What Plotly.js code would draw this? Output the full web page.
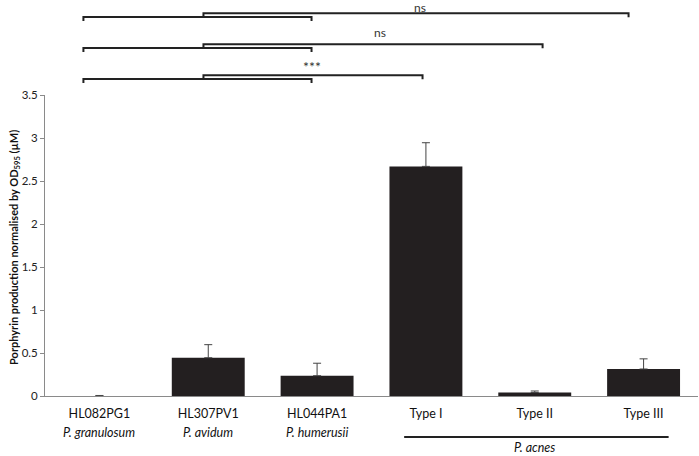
<!DOCTYPE html>
<html>
<head>
<meta charset="utf-8">
<script src="https://cdn.plot.ly/plotly-3.0.1.min.js"></script>
<style>html,body{margin:0;padding:0;background:#fff;}#chart{width:699px;height:456px;}</style>
</head>
<body>
<div id="chart"></div>
<script>
const categories = ["HL082PG1", "HL307PV1", "HL044PA1", "Type I", "Type II", "Type III"];
const values = [0, 0.445, 0.236, 2.67, 0.04, 0.314];
const errors = [0.006, 0.152, 0.145, 0.275, 0.018, 0.118];
const species = ["P. granulosum", "P. avidum", "P. humerusii"];
const groupLabel = "P. acnes";
const yTicks = [0, 0.5, 1, 1.5, 2, 2.5, 3, 3.5];
const comparisons = [
  {label: "***", yLeft: 1.053, yRight: 1.066, yText: 1.095, textX: 1.95, size: 14},
  {label: "ns", yLeft: 1.156, yRight: 1.169, yText: 1.206, textX: 2.58, size: 12},
  {label: "ns", yLeft: 1.259, yRight: 1.272, yText: 1.29, textX: 2.95, size: 12}
];
const bracketLeftX = [-0.147, 1.949];
const bracketRightStart = 0.956;
const bracketRightEnds = [2.969, 4.072, 4.862];

const FONT = "Lato, 'Open Sans', sans-serif";
const dark = "#222";
const shapes = [];
const annotations = [];
const tick = 0.0133;
comparisons.forEach((c, i) => {
  const ln = {color: dark, width: 2};
  shapes.push({type: "path", xref: "x", yref: "paper",
    path: `M ${bracketLeftX[0]} ${c.yLeft - tick} L ${bracketLeftX[0]} ${c.yLeft} L ${bracketLeftX[1]} ${c.yLeft} L ${bracketLeftX[1]} ${c.yLeft - tick}`,
    line: ln});
  shapes.push({type: "path", xref: "x", yref: "paper",
    path: `M ${bracketRightStart} ${c.yLeft} L ${bracketRightStart} ${c.yRight} L ${bracketRightEnds[i]} ${c.yRight} L ${bracketRightEnds[i]} ${c.yRight - tick}`,
    line: ln});
  annotations.push({xref: "x", yref: "paper", x: c.textX, y: c.yText, text: c.label,
    showarrow: false, xanchor: "center", yanchor: "middle",
    font: {family: FONT, size: c.size, color: "#333"}});
});
species.forEach((s, i) => {
  annotations.push({xref: "x", yref: "paper", x: i, y: -0.12, text: "<i>" + s + "</i>",
    showarrow: false, xanchor: "center", yanchor: "middle",
    font: {family: FONT, size: 12.5, color: "#111"}});
});
annotations.push({xref: "x", yref: "paper", x: 4, y: -0.17, text: "<i>" + groupLabel + "</i>",
  showarrow: false, xanchor: "center", yanchor: "middle",
  font: {family: FONT, size: 12.5, color: "#111"}});
shapes.push({type: "line", xref: "x", yref: "paper", x0: 2.8, x1: 5.23, y0: -0.136, y1: -0.136,
  line: {color: dark, width: 2}});
annotations.push({xref: "paper", yref: "paper", x: -0.0475, y: 0.495, textangle: -90,
  text: "<b>Porphyrin production normalised by OD<sub>595</sub> (µM)</b>",
  showarrow: false, xanchor: "center", yanchor: "middle",
  font: {family: FONT, size: 11, color: "#111"}});

const trace = {
  type: "bar", x: categories, y: values,
  marker: {color: "#231f20", line: {width: 0}},
  width: 0.67,
  error_y: {type: "data", symmetric: false, array: errors, arrayminus: errors.map(() => 0),
    visible: true, color: "#444", thickness: 1, width: 4},
  showlegend: false, hoverinfo: "skip"
};
const layout = {
  width: 699, height: 456,
  margin: {l: 45, r: 1, t: 95, b: 60},
  paper_bgcolor: "#fff", plot_bgcolor: "#fff",
  xaxis: {type: "category", showline: true, linecolor: "#8a8a8a", linewidth: 1,
    ticks: "", showgrid: false, zeroline: false, fixedrange: true,
    tickfont: {family: FONT, size: 12.5, color: "#111"}, ticklabelstandoff: 6,
    range: [-0.5, 5.5]},
  yaxis: {range: [0, 3.5], tickvals: yTicks, ticktext: yTicks.map(String),
    showline: true, linecolor: "#8a8a8a", linewidth: 1, ticks: "outside", ticklen: 4,
    tickcolor: "#8a8a8a", showgrid: false, zeroline: false, automargin: false,
    tickfont: {family: FONT, size: 11.5, color: "#222"}},
  shapes: shapes, annotations: annotations,
  font: {family: FONT}
};
Plotly.newPlot("chart", [trace], layout, {displayModeBar: false, staticPlot: true});
</script>
</body>
</html>
